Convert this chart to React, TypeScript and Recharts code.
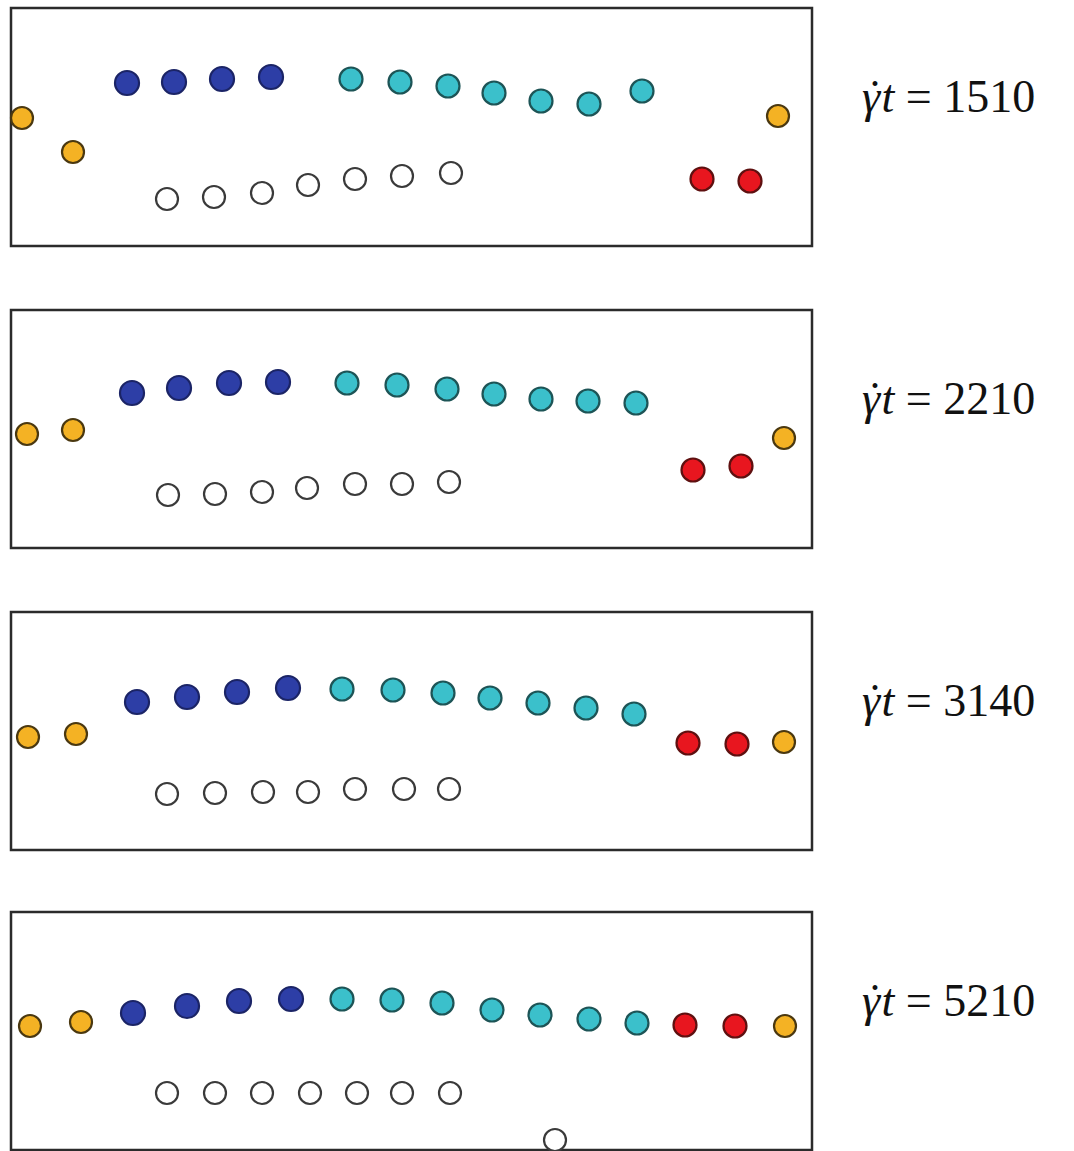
import { ScatterChart, Scatter, XAxis, YAxis, ReferenceArea } from "recharts";

type Pt = { x: number; y: number };

// shear strain labels for the four snapshots
const times = [1510, 2210, 3140, 5210];

// particle positions per snapshot (x along box, y up from box floor)
const yellow1: Pt[] = [{ x: 11, y: 128 }, { x: 62, y: 94 }, { x: 767, y: 130 }];
const blue1: Pt[] = [{ x: 116, y: 163 }, { x: 163, y: 164 }, { x: 211, y: 167 }, { x: 260, y: 169 }];
const cyan1: Pt[] = [
  { x: 340, y: 167 }, { x: 389, y: 164 }, { x: 437, y: 160 }, { x: 483, y: 153 },
  { x: 530, y: 145 }, { x: 578, y: 142 }, { x: 631, y: 155 },
];
const red1: Pt[] = [{ x: 691, y: 67 }, { x: 739, y: 65 }];
const white1: Pt[] = [
  { x: 156, y: 47 }, { x: 203, y: 49 }, { x: 251, y: 53 }, { x: 297, y: 61 },
  { x: 344, y: 67 }, { x: 391, y: 70 }, { x: 440, y: 73 },
];

const yellow2: Pt[] = [{ x: 16, y: 114 }, { x: 62, y: 118 }, { x: 773, y: 110 }];
const blue2: Pt[] = [{ x: 121, y: 155 }, { x: 168, y: 160 }, { x: 218, y: 165 }, { x: 267, y: 166 }];
const cyan2: Pt[] = [
  { x: 336, y: 165 }, { x: 386, y: 163 }, { x: 436, y: 159 }, { x: 483, y: 154 },
  { x: 530, y: 149 }, { x: 577, y: 147 }, { x: 625, y: 145 },
];
const red2: Pt[] = [{ x: 682, y: 78 }, { x: 730, y: 82 }];
const white2: Pt[] = [
  { x: 157, y: 53 }, { x: 204, y: 54 }, { x: 251, y: 56 }, { x: 296, y: 60 },
  { x: 344, y: 64 }, { x: 391, y: 64 }, { x: 438, y: 66 },
];

const yellow3: Pt[] = [{ x: 17, y: 113 }, { x: 65, y: 116 }, { x: 773, y: 108 }];
const blue3: Pt[] = [{ x: 126, y: 148 }, { x: 176, y: 153 }, { x: 226, y: 158 }, { x: 277, y: 162 }];
const cyan3: Pt[] = [
  { x: 331, y: 161 }, { x: 382, y: 160 }, { x: 432, y: 157 }, { x: 479, y: 152 },
  { x: 527, y: 147 }, { x: 575, y: 142 }, { x: 623, y: 136 },
];
const red3: Pt[] = [{ x: 677, y: 107 }, { x: 726, y: 106 }];
const white3: Pt[] = [
  { x: 156, y: 56 }, { x: 204, y: 57 }, { x: 252, y: 58 }, { x: 297, y: 58 },
  { x: 344, y: 61 }, { x: 393, y: 61 }, { x: 438, y: 61 },
];

const yellow4: Pt[] = [{ x: 19, y: 124 }, { x: 70, y: 128 }, { x: 774, y: 124 }];
const blue4: Pt[] = [{ x: 122, y: 137 }, { x: 176, y: 144 }, { x: 228, y: 149 }, { x: 280, y: 151 }];
const cyan4: Pt[] = [
  { x: 331, y: 151 }, { x: 381, y: 150 }, { x: 431, y: 147 }, { x: 481, y: 140 },
  { x: 529, y: 135 }, { x: 578, y: 131 }, { x: 626, y: 127 },
];
const red4: Pt[] = [{ x: 674, y: 125 }, { x: 724, y: 124 }];
const white4: Pt[] = [
  { x: 156, y: 57 }, { x: 204, y: 57 }, { x: 251, y: 57 }, { x: 299, y: 57 },
  { x: 346, y: 57 }, { x: 391, y: 57 }, { x: 439, y: 57 }, { x: 544, y: 10 },
];

const panels = [
  { yellow: yellow1, blue: blue1, cyan: cyan1, red: red1, white: white1 },
  { yellow: yellow2, blue: blue2, cyan: cyan2, red: red2, white: white2 },
  { yellow: yellow3, blue: blue3, cyan: cyan3, red: red3, white: white3 },
  { yellow: yellow4, blue: blue4, cyan: cyan4, red: red4, white: white4 },
];

const BOX_TOPS = [8, 310, 612, 912];
const BOX_W = 801;
const BOX_H = 238;
const PAD = 30;

const dot = (fill: string, stroke: string, r: number) => (props: any) => {
  const { cx, cy } = props;
  if (cx == null || cy == null) return <g />;
  return <circle cx={cx} cy={cy} r={r} fill={fill} stroke={stroke} strokeWidth={2.2} />;
};

function Panel({ idx }: { idx: number }) {
  const p = panels[idx];
  return (
    <div style={{ position: "absolute", left: 0, top: BOX_TOPS[idx] - PAD }}>
      <ScatterChart
        width={1074}
        height={BOX_H + PAD * 2}
        margin={{ top: PAD, bottom: PAD, left: 11, right: 1074 - 11 - BOX_W }}
      >
        <XAxis type="number" dataKey="x" domain={[0, BOX_W]} hide />
        <YAxis type="number" dataKey="y" domain={[0, BOX_H]} hide />
        <ReferenceArea x1={0} x2={BOX_W} y1={0} y2={BOX_H} fill="none" stroke="#2b2b2b" strokeWidth={2.5} fillOpacity={0} />
        <Scatter data={p.white} shape={dot("#ffffff", "#3a3a3a", 11)} isAnimationActive={false} />
        <Scatter data={p.yellow} shape={dot("#F4B224", "#4a3810", 11)} isAnimationActive={false} />
        <Scatter data={p.blue} shape={dot("#2D3EA6", "#1b2466", 12)} isAnimationActive={false} />
        <Scatter data={p.cyan} shape={dot("#3BC0CB", "#1d5456", 11.5)} isAnimationActive={false} />
        <Scatter data={p.red} shape={dot("#E8161F", "#5e1010", 11.5)} isAnimationActive={false} />
      </ScatterChart>
    </div>
  );
}

export default function App() {
  return (
    <div style={{ position: "absolute", left: 0, top: 0, width: 1074, height: 1151, background: "#fff", overflow: "hidden" }}>
      {times.map((_, i) => (
        <Panel key={i} idx={i} />
      ))}
      <svg width={1074} height={1151} style={{ position: "absolute", left: 0, top: 0, pointerEvents: "none" }}>
        {times.map((t, i) => (
          <text key={t} x={862} y={BOX_TOPS[i] + 104} fontFamily="Liberation Serif" fontSize={46} fill="#111">
            <tspan fontStyle="italic">γ</tspan>
            <tspan dx={-13}>˙</tspan>
            <tspan fontStyle="italic" dx={-1}>t</tspan> = {t}
          </text>
        ))}
      </svg>
    </div>
  );
}
